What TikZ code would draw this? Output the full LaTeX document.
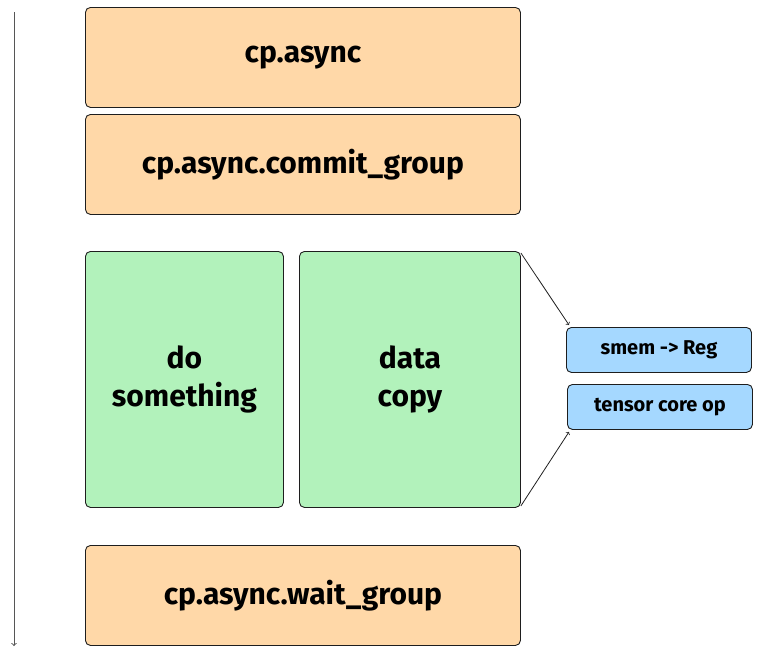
\documentclass[tikz,border=0pt]{standalone}
\usepackage{fontspec}
\setmainfont{Fira Sans}
\definecolor{stroke}{HTML}{1E1E1E}
\definecolor{orangebox}{HTML}{FFD8A8}
\definecolor{greenbox}{HTML}{B2F2BB}
\definecolor{bluebox}{HTML}{A5D8FF}
\begin{document}
\begin{tikzpicture}[x=1pt, y=-1pt,
    box/.style={draw=stroke, line width=0.9pt, rounded corners=5pt, anchor=north west,
        inner sep=0pt, align=center, font=\fontsize{30}{38}\selectfont\bfseries},
    wide/.style={box, fill=orangebox, minimum width=435pt, minimum height=100pt},
    tall/.style={box, fill=greenbox, minimum height=256pt},
    small/.style={box, fill=bluebox, minimum width=185pt, minimum height=45pt,
        font=\fontsize{20}{24}\selectfont\bfseries}]
    \useasboundingbox (0, 0) rectangle (766, 659);
    % time axis
    \coordinate (top) at (14, 12);
    \coordinate (bottom) at (14, 646);
    \draw[->, line width=1pt, draw=stroke!75] (top) -- (bottom);
    % stages
    \node[wide] (async) at (85, 7) {cp.async};
    \node[wide] (commit) at (85, 114) {cp.async.commit\_group};
    \node[tall, minimum width=198pt] (work) at (85, 251) {do\\something};
    \node[tall, minimum width=221pt] (copy) at (299, 251) {data\\copy};
    \node[small] (smem) at (566, 327) {smem -> Reg};
    \node[small] (tensor) at (567, 384) {tensor core op};
    \node[wide] (wait) at (85, 545) {cp.async.wait\_group};
    % detail arrows
    \draw[->, draw=stroke, line width=0.8pt] ([yshift=-2pt]copy.north east) -- ([shift={(3pt,2pt)}]smem.north west);
    \draw[->, draw=stroke, line width=0.8pt] ([yshift=2pt]copy.south east) -- ([shift={(2pt,-2pt)}]tensor.south west);
\end{tikzpicture}
\end{document}
